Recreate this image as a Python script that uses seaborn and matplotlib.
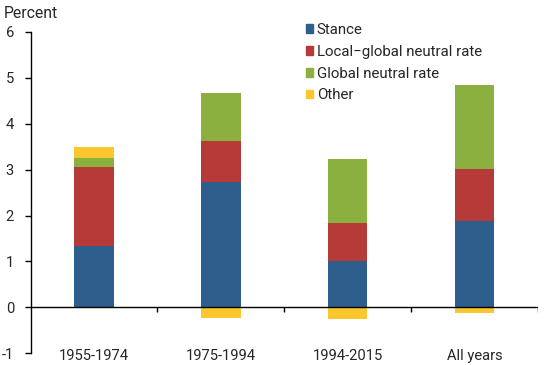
import numpy as np
import matplotlib
matplotlib.use("Agg")
import matplotlib.pyplot as plt
import matplotlib.patches as mpatches
import seaborn as sns

# data
periods = ["1955-1974", "1975-1994", "1994-2015", "All years"]
stance = [1.33, 2.74, 1.02, 1.89]
local_global = [1.73, 0.88, 0.82, 1.13]
global_rate = [0.19, 1.05, 1.38, 1.82]
other = [0.24, -0.24, -0.26, -0.13]

series_names = ["Stance", "Local\u2212global neutral rate", "Global neutral rate", "Other"]
colors = ["#2E5E8C", "#B63A38", "#8CB040", "#FCC72E"]

sns.set_style("white")
plt.rcParams["font.family"] = ["Roboto", "DejaVu Sans"]

fig = plt.figure(figsize=(5.5, 3.65), dpi=100)
ax = fig.add_axes([0.0558, 0.032, 0.978 - 0.0558, 0.913 - 0.032])

s = np.array(stance)
l = np.array(local_global)
g = np.array(global_rate)
o = np.array(other)

# positive stack drawn top-down so each layer overdraws the one above
layers = [
    (s + l + g + np.clip(o, 0, None), colors[3]),
    (s + l + g, colors[2]),
    (s + l, colors[1]),
    (s, colors[0]),
]
for vals, c in layers:
    sns.barplot(x=periods, y=vals, color=c, saturation=1, width=0.31,
                linewidth=0, ax=ax)
# negative "Other" below zero
sns.barplot(x=periods, y=np.clip(o, None, 0), color=colors[3], saturation=1,
            width=0.31, linewidth=0, ax=ax)

ax.set_xlim(-0.5, 3.5)
ax.set_ylim(-1, 6)
ax.set_yticks(range(-1, 7))
ax.set_yticklabels([str(v) for v in range(-1, 7)])
ax.set_ylabel("")
ax.set_xlabel("")

for sp in ["top", "right", "bottom"]:
    ax.spines[sp].set_visible(False)
ax.spines["left"].set_color("black")
ax.spines["left"].set_linewidth(1)

ax.axhline(0, color="black", lw=1, zorder=3)
ax.vlines(np.arange(0.5, 4.0, 1.0), -0.11, 0, color="black", lw=1, zorder=3)

ax.tick_params(axis="y", length=4, width=1, color="black", labelsize=10.6, pad=8, left=True)
ax.tick_params(axis="x", length=0, labelsize=10.6, pad=-3)

fig.text(4 / 550, 1 - 13 / 365, "Percent", fontsize=11.3, ha="left", va="center")

handles = [mpatches.Patch(color=c, label=n) for c, n in zip(colors, series_names)]
leg = ax.legend(handles=handles, loc="upper left",
                bbox_to_anchor=(305.5 / 550, 1 - 23 / 365), bbox_transform=fig.transFigure,
                frameon=False, fontsize=10.8, handlelength=0.5, handleheight=0.5,
                handletextpad=0.25, labelspacing=0.52, borderaxespad=0, borderpad=0)

fig.savefig("out.png", dpi=100)
